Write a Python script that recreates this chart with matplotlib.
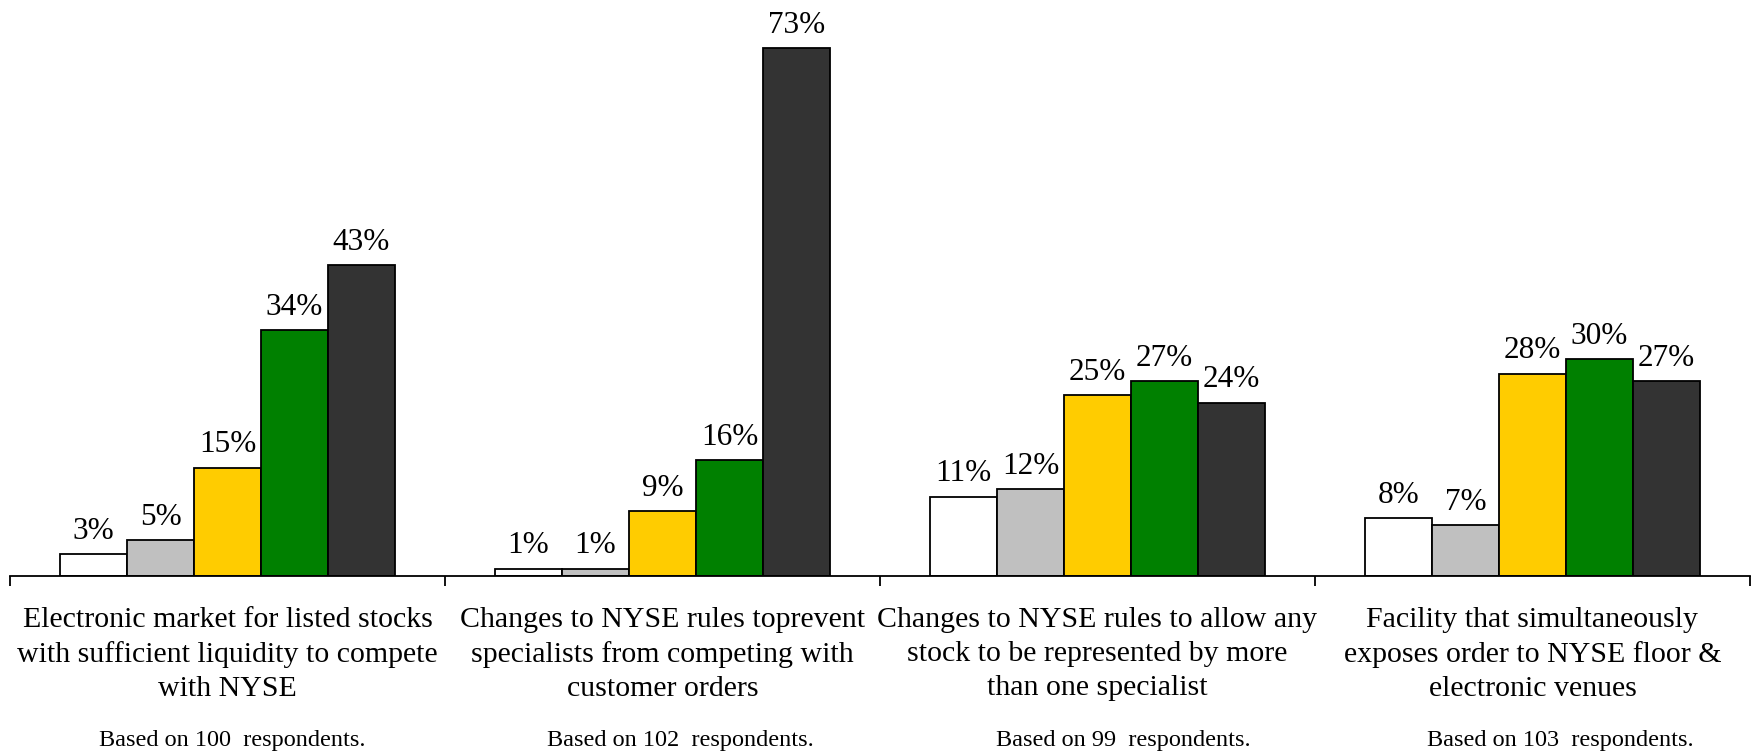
import matplotlib.pyplot as plt
import numpy as np

plt.rcParams['font.family'] = ['Liberation Serif', 'DejaVu Serif']

categories = [
    'Electronic market for listed stocks\nwith sufficient liquidity to compete\nwith NYSE',
    'Changes to NYSE rules toprevent\nspecialists from competing with\ncustomer orders',
    'Changes to NYSE rules to allow any\nstock to be represented by more\nthan one specialist',
    'Facility that simultaneously\nexposes order to NYSE floor &\nelectronic venues',
]
respondents = [100, 102, 99, 103]

# five answer levels per category, percent
s1 = [3, 1, 11, 8]
s2 = [5, 1, 12, 7]
s3 = [15, 9, 25, 28]
s4 = [34, 16, 27, 30]
s5 = [43, 73, 24, 27]
series = [s1, s2, s3, s4, s5]
colors = ['#FFFFFF', '#C0C0C0', '#FFCC00', '#008000', '#333333']

fig = plt.figure(figsize=(17.54, 7.52), dpi=100)
ax = fig.add_axes([10 / 1754, 176 / 752, 1740 / 1754, 576 / 752])

x = np.arange(len(categories))
w = 0.154
for i, (vals, c) in enumerate(zip(series, colors)):
    pos = x + (i - 2) * w
    bars = ax.bar(pos, vals, w, color=c, edgecolor='black', linewidth=1.3)
    for b, v in zip(bars, vals):
        ax.annotate(f'{v}%', (b.get_x() + b.get_width() / 2, v),
                    xytext=(0, 6), textcoords='offset points',
                    ha='center', va='bottom', fontsize=22.5)

ax.set_xlim(-0.5, len(categories) - 0.5)
ax.set_ylim(0, 79.7)
for s in ['top', 'right', 'left']:
    ax.spines[s].set_visible(False)
ax.spines['bottom'].set_linewidth(1.3)
ax.set_yticks([])
ax.set_xticks(np.arange(len(categories) + 1) - 0.5)
ax.set_xticklabels([])
ax.tick_params(axis='x', length=7, width=1.3, direction='out')

# the "Based on" notes sit a bit right of the group centre in the original
note_shift = [0.01, 0.04, 0.06, 0.065]

trans = ax.get_xaxis_transform()
for xi, lab, n, dx in zip(x, categories, respondents, note_shift):
    ax.text(xi, -0.136, lab, transform=trans, ha='center', va='center',
            fontsize=21.5, linespacing=1.4)
    ax.text(xi + dx, -0.285, f'Based on {n}  respondents.', transform=trans,
            ha='center', va='center', fontsize=17.5)

fig.savefig('out.png', dpi=100)
